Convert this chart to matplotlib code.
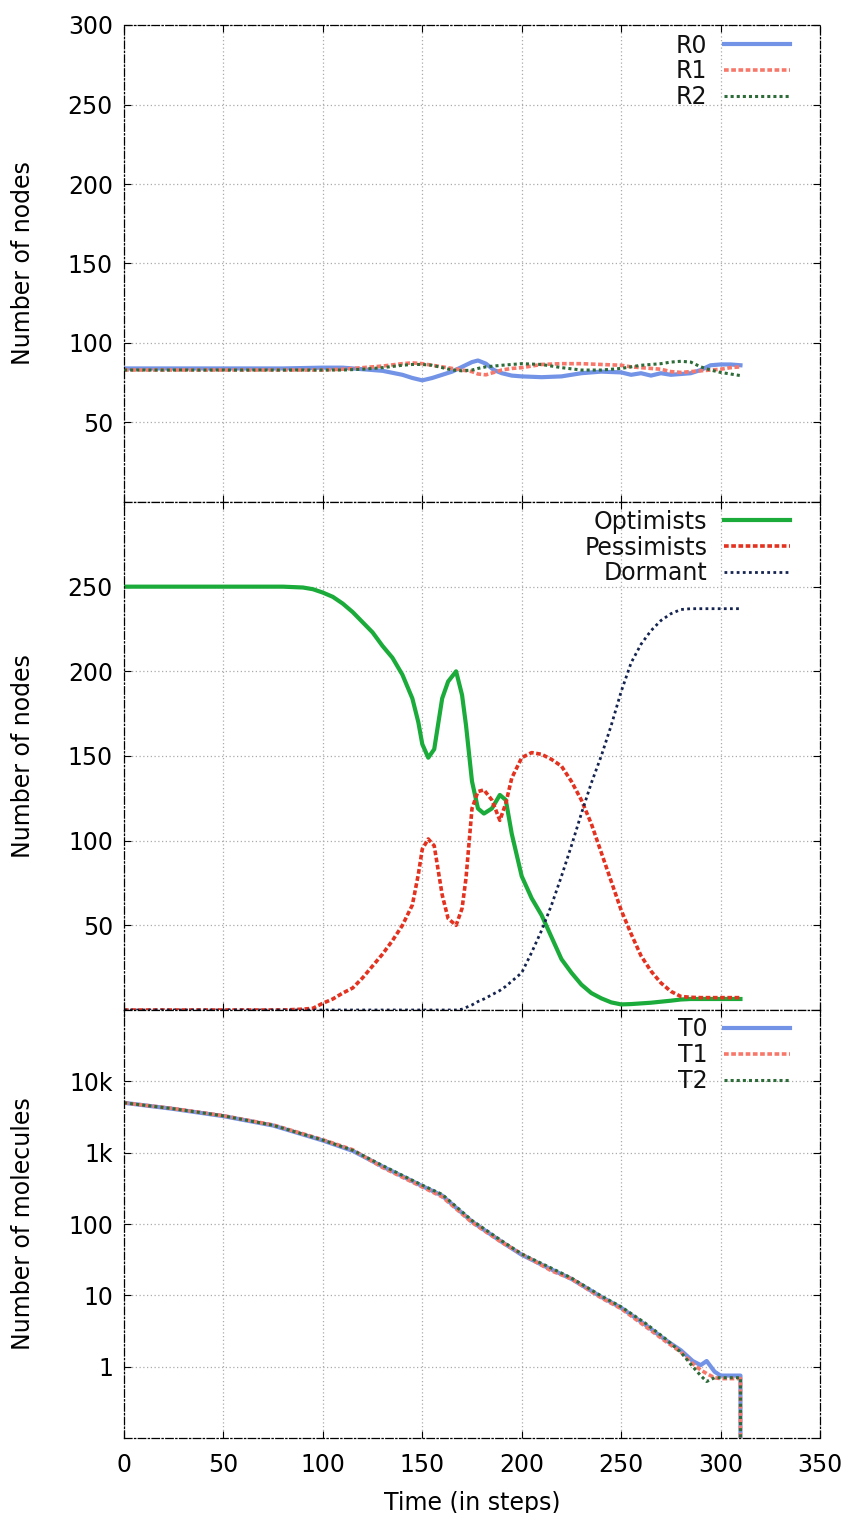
"""Three stacked panels: R counts, population states, T molecules."""
import matplotlib
matplotlib.use("Agg")
import matplotlib.pyplot as plt
from matplotlib.ticker import FixedLocator, NullLocator

plt.rcParams["font.family"] = ["DejaVu Sans"]

# --- panel 1: R0 / R1 / R2 ---
t_r = [0, 20, 40, 60, 80, 100, 110, 120, 130, 140, 145, 150, 155, 160, 165, 170, 175, 178, 182, 186,
       190, 195, 200, 210, 220, 230, 240, 250, 255, 260, 265, 270, 275, 280, 285, 290, 295, 300, 305, 310]
r0 = [84, 84, 84, 84, 84, 84.5, 84.5, 83.5, 82.5, 80, 78, 76.5, 78, 80, 82, 85, 88, 89, 87, 83,
      81, 79.5, 79, 78.5, 79, 81, 82, 81.5, 80, 81, 79.5, 81, 80, 80.5, 81, 83, 86, 86.5, 86.5, 86]
r1 = [83, 83, 83, 83, 83, 83, 83.5, 84.5, 85.5, 87, 87.5, 87, 86, 85, 84, 83, 82, 80.5, 80, 81.5,
      83, 84, 84.5, 86.5, 87, 87, 86.5, 86, 85, 84.5, 84, 83.5, 82, 81.5, 82, 82.5, 83, 83.5, 84.5, 85]
r2 = [83, 83, 83, 83, 83, 83, 83, 83.5, 84.5, 86, 86.5, 86.5, 86, 84.5, 83, 82.5, 83, 84, 85, 85.5,
      86, 86.5, 87, 86.5, 84.5, 83, 83, 84, 85, 86, 86.5, 87, 88, 88.5, 88, 85, 83, 81.5, 80.5, 79.5]

# --- panel 2: optimists / pessimists / dormant ---
t_s = [0, 20, 40, 60, 80, 90, 95, 100, 105, 110, 115, 120, 125, 130, 135, 140, 145, 148, 150, 153,
       156, 160, 163, 167, 170, 172, 175, 178, 181, 185, 189, 192, 195, 200, 205, 210, 215, 220, 225, 230,
       235, 240, 245, 250, 255, 260, 265, 270, 275, 280, 285, 290, 295, 300, 305, 310]
optimists = [250, 250, 250, 250, 250, 249.5, 248.5, 246.5, 244, 240, 235, 229, 223, 215, 208, 198, 184, 170, 157, 149,
             154, 184, 194, 200, 186, 168, 135, 119, 116, 119, 127, 124, 104, 79, 66, 56, 43, 30, 22, 15,
             10, 6.9, 4.5, 3.3, 3.5, 3.9, 4.3, 4.9, 5.5, 6.2, 6.5, 6.5, 6.5, 6.5, 6.5, 6.5]
pessimists = [0, 0, 0, 0, 0, 0.5, 1, 4, 6.5, 10, 13, 19, 26, 33, 41, 50, 62, 80, 95, 101,
              97, 68, 54, 50, 60, 78, 119, 129, 130, 124, 112, 122, 137, 149, 152, 151, 148, 144, 135, 124,
              110, 93, 76, 59, 45, 32, 23, 16, 11, 8, 7.5, 7.3, 7.3, 7.3, 7.3, 7.3]
dormant = [0, 0, 0, 0, 0, 0, 0, 0, 0, 0, 0, 0, 0, 0, 0, 0, 0, 0, 0, 0,
           0, 0, 0, 0, 0.5, 1.5, 3, 5, 6.5, 9, 11.5, 14, 17, 22, 34, 47, 62, 79, 97, 116,
           134, 150, 168, 188, 205, 216, 224, 230, 234, 236.5, 237, 237, 237, 237, 237, 237]

# --- panel 3: T0 / T1 / T2 ---
t_m = [0, 25, 50, 75, 100, 115, 130, 150, 160, 175, 190, 200, 215, 225, 240, 250, 262, 272, 280, 286,
       290, 293, 297, 300, 305, 310, 310]
m0 = [5000, 4100, 3250, 2400, 1480, 1060, 640, 340, 250, 108, 56, 37, 23, 17, 9.5, 6.7, 3.9, 2.4, 1.7, 1.2,
      1.05, 1.2, 0.85, 0.75, 0.75, 0.75, 0]
m1 = [5000, 4150, 3300, 2450, 1520, 1100, 620, 330, 240, 105, 55, 38, 22, 17, 9.2, 6.5, 3.7, 2.3, 1.6, 1.1,
      0.9, 0.8, 0.7, 0.68, 0.68, 0.68, 0]
m2 = [5000, 4120, 3280, 2420, 1500, 1080, 660, 350, 260, 112, 58, 38, 24, 17.5, 9.8, 6.9, 4.1, 2.5, 1.6, 1.0,
      0.75, 0.62, 0.7, 0.7, 0.7, 0.7, 0]

x_ticks = [0, 50, 100, 150, 200, 250, 300, 350]

C_BLUE = "#7393e6"
C_SALMON = "#f7786b"
C_DGREEN = "#2d6b38"
C_GREEN = "#1aab3a"
C_RED = "#e3321f"
C_NAVY = "#14234f"
DOT = (0, (1.3, 0.7))
FS = 17

W, H = 844, 1513
fig = plt.figure(figsize=(W / 100, H / 100), dpi=100)
left, right = 124, 820


def make_ax(top, bottom):
    return fig.add_axes([left / W, 1 - bottom / H, (right - left) / W, (bottom - top) / H])


ax1 = make_ax(25, 502)
ax2 = make_ax(502, 1010)
ax3 = make_ax(1010, 1438)


def style(ax, yticks):
    ax.set_xlim(0, 350)
    ax.xaxis.set_major_locator(FixedLocator(x_ticks))
    ax.yaxis.set_major_locator(FixedLocator(yticks))
    ax.yaxis.set_minor_locator(NullLocator())
    ax.grid(True, color="#ababab", linestyle=(0, (1, 2)), linewidth=0.9)
    ax.set_axisbelow(True)
    for sp in ax.spines.values():
        sp.set_linestyle((0, (6, 2, 1, 2)))
        sp.set_linewidth(0.9)
        sp.set_color("black")
    ax.tick_params(direction="in", length=5, width=0.8, labelsize=FS, right=True, top=True, pad=8)
    ax.tick_params(axis="x", pad=11)
    ax.set_ylabel("Number of nodes", fontsize=FS)
    ax.yaxis.set_label_coords(-0.128, 0.5)


def legend(ax, top):
    leg = ax.legend(loc="upper right", bbox_to_anchor=(0.957, top), markerfirst=False, frameon=False,
                    fontsize=FS, handlelength=2.8, handletextpad=0.7, labelspacing=0.08,
                    borderpad=0, borderaxespad=0)
    for txt in leg.get_texts():
        txt.set_color("#111111")


# panel 1
ax1.plot(t_r, r0, color=C_BLUE, lw=3, label="R0")
ax1.plot(t_r, r1, color=C_SALMON, lw=2.6, linestyle=DOT, label="R1")
ax1.plot(t_r, r2, color=C_DGREEN, lw=2.2, linestyle=(0, (1, 1)), label="R2")
ax1.set_ylim(0, 300)
style(ax1, [50, 100, 150, 200, 250, 300])
ax1.tick_params(labelbottom=False)
legend(ax1, 0.982)

# panel 2
ax2.plot(t_s, optimists, color=C_GREEN, lw=3, label="Optimists")
ax2.plot(t_s, pessimists, color=C_RED, lw=2.6, linestyle=DOT, label="Pessimists")
ax2.plot(t_s, dormant, color=C_NAVY, lw=2.0, linestyle=(0, (1, 1.2)), label="Dormant")
ax2.set_ylim(0, 300)
style(ax2, [50, 100, 150, 200, 250])
ax2.tick_params(labelbottom=False)
legend(ax2, 0.985)

# panel 3
ax3.set_yscale("log")
ax3.plot(t_m, m0, color=C_BLUE, lw=3, label="T0")
ax3.plot(t_m, m1, color=C_SALMON, lw=2.6, linestyle=DOT, label="T1")
ax3.plot(t_m, m2, color=C_DGREEN, lw=2.2, linestyle=(0, (1, 1)), label="T2")
ax3.set_ylim(0.1, 1e5)
style(ax3, [1, 10, 100, 1000, 10000])
ax3.set_yticklabels(["1", "10", "100", "1k", "10k"])
ax3.set_ylabel("Number of molecules", fontsize=FS)
ax3.yaxis.set_label_coords(-0.128, 0.5)
ax3.set_xlabel("Time (in steps)", fontsize=FS, labelpad=10)
legend(ax3, 0.983)

plt.savefig("out.png", dpi=100)
plt.close()
